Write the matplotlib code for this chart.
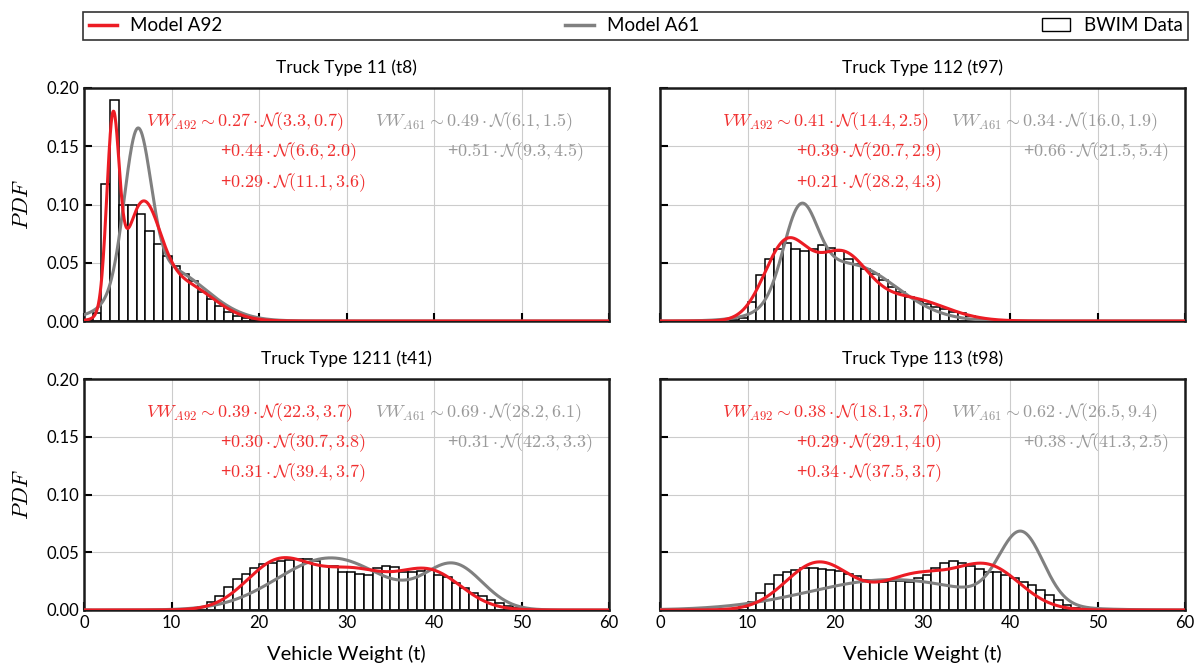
import numpy as np
import matplotlib
matplotlib.use("Agg")
import matplotlib.pyplot as plt
from matplotlib.lines import Line2D
from matplotlib.patches import Patch

# panel titles
titles = ["Truck Type 11 (t8)", "Truck Type 112 (t97)",
          "Truck Type 1211 (t41)", "Truck Type 113 (t98)"]

# BWIM histograms (1 t bins), first bin left edge + densities
bin_start_t8 = 0
hist_t8 = [0.001, 0.007, 0.118, 0.190, 0.100, 0.100, 0.092, 0.077, 0.066, 0.056,
           0.047, 0.040, 0.034, 0.025, 0.019, 0.013, 0.008, 0.0045, 0.0025, 0.001,
           0.0005]

bin_start_t97 = 8
hist_t97 = [0.001, 0.003, 0.016, 0.0395, 0.053, 0.062, 0.067, 0.062, 0.060, 0.062,
            0.0655, 0.063, 0.060, 0.0535, 0.049, 0.045, 0.040, 0.035, 0.029, 0.025,
            0.021, 0.017, 0.0145, 0.012, 0.010, 0.008, 0.0065, 0.0045, 0.001]

bin_start_t41 = 12
hist_t41 = [0.001, 0.003, 0.0065, 0.012, 0.020, 0.0267, 0.031, 0.036, 0.040, 0.041,
            0.042, 0.0435, 0.044, 0.044, 0.042, 0.038, 0.0377, 0.0325, 0.0325, 0.031,
            0.0305, 0.036, 0.0377, 0.037, 0.0325, 0.0325, 0.034, 0.0355, 0.0305, 0.0284,
            0.0238, 0.0194, 0.015, 0.012, 0.0087, 0.0058, 0.0035, 0.002]

bin_start_t98 = 9
hist_t98 = [0.003, 0.0072, 0.015, 0.0223, 0.030, 0.0325, 0.0348, 0.036, 0.036, 0.0355,
            0.0348, 0.034, 0.031, 0.0296, 0.026, 0.0246, 0.0246, 0.025, 0.025, 0.0246,
            0.0276, 0.0305, 0.036, 0.041, 0.042, 0.0406, 0.038, 0.0355, 0.0333, 0.0325,
            0.0305, 0.0276, 0.0246, 0.0218, 0.0174, 0.013, 0.0087, 0.004, 0.002]

# Gaussian mixture fits: (weight, mean, std)
a92_t8 = [(0.27, 3.3, 0.7), (0.44, 6.6, 2.0), (0.29, 11.1, 3.6)]
a61_t8 = [(0.49, 6.1, 1.5), (0.51, 9.3, 4.5)]
a92_t97 = [(0.41, 14.4, 2.5), (0.39, 20.7, 2.9), (0.21, 28.2, 4.3)]
a61_t97 = [(0.34, 16.0, 1.9), (0.66, 21.5, 5.4)]
a92_t41 = [(0.39, 22.3, 3.7), (0.30, 30.7, 3.8), (0.31, 39.4, 3.7)]
a61_t41 = [(0.69, 28.2, 6.1), (0.31, 42.3, 3.3)]
a92_t98 = [(0.38, 18.1, 3.7), (0.29, 29.1, 4.0), (0.34, 37.5, 3.7)]
a61_t98 = [(0.62, 26.5, 9.4), (0.38, 41.3, 2.5)]

RED = "#ec1c24"
RED_TXT = "#f03030"
GRAY = "#808080"
GRAY_TXT = "#9a9a9a"

plt.rcParams["font.family"] = ["Lato", "DejaVu Sans"]
plt.rcParams["mathtext.fontset"] = "cm"


def mixture_pdf(x, comps):
    y = np.zeros_like(x)
    for w, m, s in comps:
        y += w * np.exp(-0.5 * ((x - m) / s) ** 2) / (s * np.sqrt(2 * np.pi))
    return y


def comp_text(w, m, s):
    return r"$%.2f \cdot \mathcal{N}(%.1f, %.1f)$" % (w, m, s)


def draw_panel(ax, title, start, hist, a92, a61):
    edges = start + np.arange(len(hist))
    ax.bar(edges, hist, width=1.0, align="edge", facecolor="white",
           edgecolor="black", linewidth=1.1, zorder=2)
    x = np.linspace(0, 60, 1201)
    ax.plot(x, mixture_pdf(x, a61), color=GRAY, lw=2.2, zorder=3)
    ax.plot(x, mixture_pdf(x, a92), color=RED, lw=2.2, zorder=4)

    ax.set_xlim(0, 60)
    ax.set_ylim(0, 0.2)
    ax.set_xticks(np.arange(0, 61, 10))
    ax.set_yticks(np.arange(0, 0.201, 0.05))
    ax.grid(True, color="#cccccc", lw=0.8, zorder=0)
    ax.set_axisbelow(True)
    ax.tick_params(direction="in", length=6, width=1.5, labelsize=12)
    for sp in ax.spines.values():
        sp.set_linewidth(1.8)
        sp.set_color("#1a1a1a")
    ax.set_title(title, fontsize=12.5, pad=11)

    # formula annotations
    fs = 13
    w, m, s = a92[0]
    ax.text(0.118, 0.855, r"$VW_{A92} \sim %.2f \cdot \mathcal{N}(%.1f, %.1f)$" % (w, m, s),
            transform=ax.transAxes, color=RED_TXT, fontsize=fs, va="center", zorder=6)
    for i, (w, m, s) in enumerate(a92[1:]):
        ax.text(0.259, 0.725 - 0.13 * i, "+" + comp_text(w, m, s),
                transform=ax.transAxes, color=RED_TXT, fontsize=fs, va="center", zorder=6)
    w, m, s = a61[0]
    ax.text(0.554, 0.855, r"$VW_{A61} \sim %.2f \cdot \mathcal{N}(%.1f, %.1f)$" % (w, m, s),
            transform=ax.transAxes, color=GRAY_TXT, fontsize=fs, va="center", zorder=6)
    for i, (w, m, s) in enumerate(a61[1:]):
        ax.text(0.691, 0.725 - 0.13 * i, "+" + comp_text(w, m, s),
                transform=ax.transAxes, color=GRAY_TXT, fontsize=fs, va="center", zorder=6)


fig = plt.figure(figsize=(11.99, 6.68), dpi=100)
W, H = 1199.0, 668.0
ax1 = fig.add_axes([84 / W, 1 - 321 / H, 525 / W, 233 / H])
ax2 = fig.add_axes([660 / W, 1 - 321 / H, 525 / W, 233 / H])
ax3 = fig.add_axes([84 / W, 1 - 610 / H, 525 / W, 231 / H])
ax4 = fig.add_axes([660 / W, 1 - 610 / H, 525 / W, 231 / H])

draw_panel(ax1, titles[0], bin_start_t8, hist_t8, a92_t8, a61_t8)
draw_panel(ax2, titles[1], bin_start_t97, hist_t97, a92_t97, a61_t97)
draw_panel(ax3, titles[2], bin_start_t41, hist_t41, a92_t41, a61_t41)
draw_panel(ax4, titles[3], bin_start_t98, hist_t98, a92_t98, a61_t98)

for ax in (ax1, ax2):
    ax.tick_params(labelbottom=False)
for ax in (ax2, ax4):
    ax.tick_params(labelleft=False)
for ax in (ax1, ax3):
    ax.set_ylabel(r"$PDF$", fontsize=16, labelpad=10)
for ax in (ax3, ax4):
    ax.set_xlabel("Vehicle Weight (t)", fontsize=14.5, labelpad=10)

handles = [Line2D([], [], color=RED, lw=2.5),
           Line2D([], [], color=GRAY, lw=2.5),
           Patch(facecolor="white", edgecolor="black", linewidth=1.0)]
labels = ["Model A92", "Model A61", "BWIM Data"]
leg = fig.legend(handles, labels, loc="lower left", ncol=3, mode="expand",
                 bbox_to_anchor=(83 / W, 1 - 40 / H, 1105 / W, 30 / H),
                 fontsize=13.5, frameon=True, fancybox=False, borderaxespad=0,
                 handlelength=1.5, handletextpad=0.7, borderpad=0.3)
leg.get_frame().set_edgecolor("black")
leg.get_frame().set_linewidth(1.2)

plt.savefig("out.png", dpi=100, facecolor="white")
